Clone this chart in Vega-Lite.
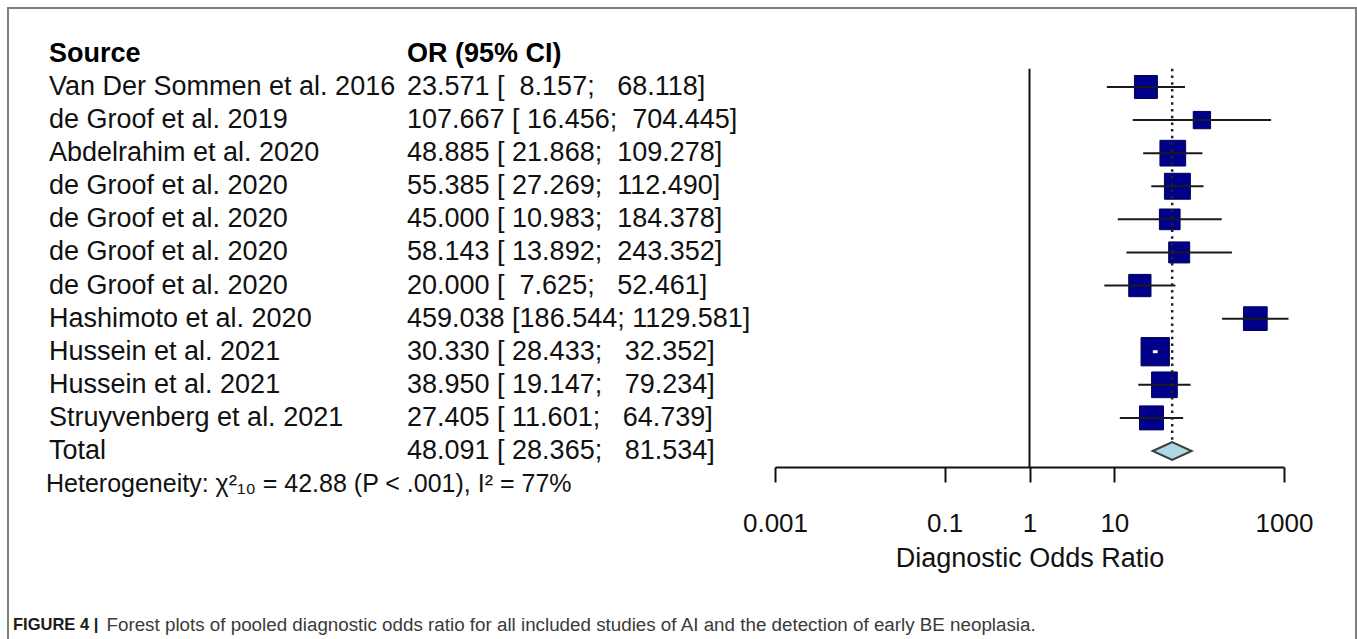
{
  "$schema": "https://vega.github.io/schema/vega-lite/v6.json",
  "width": 1357,
  "height": 639,
  "autosize": {"type": "fit", "contains": "padding"},
  "padding": {"left": 8, "top": 8, "right": 1, "bottom": -2},
  "background": "white",
  "config": {
    "font": "Liberation Sans",
    "view": {"stroke": "#808080", "strokeWidth": 2}
  },
  "title": {
    "text": "FIGURE 4 |",
    "orient": "bottom",
    "anchor": "start",
    "frame": "group",
    "offset": -24,
    "dx": 5,
    "font": "Liberation Sans",
    "fontSize": 16.5,
    "fontWeight": "bold",
    "color": "#1a1a1a"
  },
  "data": {
    "values": [
      {"row": 0, "type": "header", "source": "Source", "ortext": "OR (95% CI)"},
      {"row": 1, "type": "study", "source": "Van Der Sommen et al. 2016", "ortext": "23.571\u00a0[\u00a0\u00a08.157;\u00a0\u00a0\u00a068.118]", "or": 23.571, "lower": 8.157, "upper": 68.118, "weight": 8.6},
      {"row": 2, "type": "study", "source": "de Groof et al. 2019", "ortext": "107.667\u00a0[\u00a016.456;\u00a0\u00a0704.445]", "or": 107.667, "lower": 16.456, "upper": 704.445, "weight": 4.9},
      {"row": 3, "type": "study", "source": "Abdelrahim et al. 2020", "ortext": "48.885\u00a0[\u00a021.868;\u00a0\u00a0109.278]", "or": 48.885, "lower": 21.868, "upper": 109.278, "weight": 10.8},
      {"row": 4, "type": "study", "source": "de Groof et al. 2020", "ortext": "55.385\u00a0[\u00a027.269;\u00a0\u00a0112.490]", "or": 55.385, "lower": 27.269, "upper": 112.49, "weight": 11.0},
      {"row": 5, "type": "study", "source": "de Groof et al. 2020", "ortext": "45.000\u00a0[\u00a010.983;\u00a0\u00a0184.378]", "or": 45.0, "lower": 10.983, "upper": 184.378, "weight": 7.0},
      {"row": 6, "type": "study", "source": "de Groof et al. 2020", "ortext": "58.143\u00a0[\u00a013.892;\u00a0\u00a0243.352]", "or": 58.143, "lower": 13.892, "upper": 243.352, "weight": 7.2},
      {"row": 7, "type": "study", "source": "de Groof et al. 2020", "ortext": "20.000\u00a0[\u00a0\u00a07.625;\u00a0\u00a0\u00a052.461]", "or": 20.0, "lower": 7.625, "upper": 52.461, "weight": 8.1},
      {"row": 8, "type": "study", "source": "Hashimoto et al. 2020", "ortext": "459.038\u00a0[186.544;\u00a01129.581]", "or": 459.038, "lower": 186.544, "upper": 1129.581, "weight": 9.2},
      {"row": 9, "type": "study", "source": "Hussein et al. 2021", "ortext": "30.330\u00a0[\u00a028.433;\u00a0\u00a0\u00a032.352]", "or": 30.33, "lower": 28.433, "upper": 32.352, "weight": 13.1},
      {"row": 10, "type": "study", "source": "Hussein et al. 2021", "ortext": "38.950\u00a0[\u00a019.147;\u00a0\u00a0\u00a079.234]", "or": 38.95, "lower": 19.147, "upper": 79.234, "weight": 10.8},
      {"row": 11, "type": "study", "source": "Struyvenberg et al. 2021", "ortext": "27.405\u00a0[\u00a011.601;\u00a0\u00a0\u00a064.739]", "or": 27.405, "lower": 11.601, "upper": 64.739, "weight": 9.4},
      {"row": 12, "type": "total", "source": "Total", "ortext": "48.091\u00a0[\u00a028.365;\u00a0\u00a0\u00a081.534]", "or": 48.091, "lower": 28.365, "upper": 81.534},
      {"row": 13, "type": "het", "source": "Heterogeneity: \u03c7\u00b2\u2081\u2080 = 42.88 (P < .001), I\u00b2 = 77%", "ortext": ""}
    ]
  },
  "resolve": {"scale": {"x": "independent"}, "axis": {"x": "independent"}},
  "layer": [
    {
      "transform": [
        {"filter": "datum.type == 'study' || datum.type == 'total'"},
        {"fold": ["source", "ortext"], "as": ["col", "label"]}
      ],
      "mark": {"type": "text", "align": "left", "baseline": "middle", "fontSize": 27, "color": "#111111"},
      "encoding": {
        "x": {
          "field": "col", "type": "nominal",
          "scale": {"type": "point", "domain": ["source", "ortext"], "range": [41, 399], "padding": 0},
          "axis": {
            "orient": "bottom",
            "title": "Forest plots of pooled diagnostic odds ratio for all included studies of AI and the detection of early BE neoplasia.",
            "labels": false,
            "ticks": false,
            "domain": false,
            "grid": false,
            "titleX": 98,
            "titleY": -11,
            "titleAlign": "left",
            "titleBaseline": "alphabetic",
            "titleFont": "Liberation Sans",
            "titleFontSize": 18.8,
            "titleFontWeight": "normal",
            "titleColor": "#3a3a3a"
          }
        },
        "y": {"field": "row", "type": "quantitative", "scale": {"domain": [-1.387, 17.742], "reverse": true, "nice": false, "zero": false}, "axis": null},
        "text": {"field": "label"}
      }
    },
    {
      "transform": [
        {"filter": "datum.type == 'header'"},
        {"fold": ["source", "ortext"], "as": ["col", "label"]}
      ],
      "mark": {"type": "text", "align": "left", "baseline": "middle", "fontSize": 27, "fontWeight": "bold", "color": "#000000"},
      "encoding": {
        "x": {"field": "col", "type": "nominal", "scale": {"type": "point", "domain": ["source", "ortext"], "range": [41, 399], "padding": 0}, "axis": null},
        "y": {"field": "row", "type": "quantitative", "scale": {"domain": [-1.387, 17.742], "reverse": true, "nice": false, "zero": false}, "axis": null},
        "text": {"field": "label"}
      }
    },
    {
      "transform": [
        {"filter": "datum.type == 'het'"},
        {"fold": ["source", "ortext"], "as": ["col", "label"]},
        {"filter": "datum.label != ''"}
      ],
      "mark": {"type": "text", "align": "left", "baseline": "middle", "fontSize": 25, "color": "#111111", "dx": -3},
      "encoding": {
        "x": {"field": "col", "type": "nominal", "scale": {"type": "point", "domain": ["source", "ortext"], "range": [41, 399], "padding": 0}, "axis": null},
        "y": {"field": "row", "type": "quantitative", "scale": {"domain": [-1.387, 17.742], "reverse": true, "nice": false, "zero": false}, "axis": null},
        "text": {"field": "label"}
      }
    },
    {
      "transform": [{"filter": "datum.type == 'total'"}],
      "mark": {"type": "rule", "color": "#111111", "strokeWidth": 2},
      "encoding": {
        "x": {"datum": 1, "type": "quantitative", "scale": {"type": "log", "domain": [0.001, 1000], "range": [767, 1276], "nice": false}, "axis": null},
        "y": {"datum": 0.45, "type": "quantitative", "scale": {"domain": [-1.387, 17.742], "reverse": true, "nice": false, "zero": false}, "axis": null},
        "y2": {"datum": 12.485}
      }
    },
    {
      "transform": [{"filter": "datum.type == 'study'"}],
      "mark": {"type": "point", "shape": "square", "filled": true, "opacity": 1, "color": "#00008B", "stroke": "#000055", "strokeWidth": 1},
      "encoding": {
        "x": {
          "field": "or", "type": "quantitative",
          "scale": {"type": "log", "domain": [0.001, 1000], "range": [767, 1276], "nice": false},
          "axis": {
            "orient": "bottom",
            "values": [0.001, 0.1, 1, 10, 1000],
            "format": "~g",
            "offset": -174,
            "title": "Diagnostic Odds Ratio",
            "grid": false,
            "domainColor": "#111111",
            "domainWidth": 2,
            "tickColor": "#111111",
            "tickWidth": 2,
            "tickSize": 15,
            "labelFont": "Liberation Sans",
            "labelFontSize": 26,
            "labelColor": "#111111",
            "labelFlush": false,
            "labelPadding": 28,
            "titleFont": "Liberation Sans",
            "titleFontSize": 27,
            "titleFontWeight": "normal",
            "titleColor": "#111111",
            "titlePadding": 9
          }
        },
        "y": {"field": "row", "type": "quantitative", "scale": {"domain": [-1.387, 17.742], "reverse": true, "nice": false, "zero": false}, "axis": null},
        "size": {"field": "weight", "type": "quantitative", "scale": {"type": "linear", "domain": [0, 13.1], "range": [0, 801]}, "legend": null}
      }
    },
    {
      "transform": [{"filter": "datum.type == 'study'"}],
      "mark": {"type": "rule", "color": "#1a1a1a", "strokeWidth": 2},
      "encoding": {
        "x": {"field": "lower", "type": "quantitative", "scale": {"type": "log", "domain": [0.001, 1000], "range": [767, 1276], "nice": false}, "axis": null},
        "x2": {"field": "upper"},
        "y": {"field": "row", "type": "quantitative", "scale": {"domain": [-1.387, 17.742], "reverse": true, "nice": false, "zero": false}, "axis": null}
      }
    },
    {
      "transform": [{"filter": "datum.type == 'study' && datum.upper / datum.lower < 1.3"}],
      "mark": {"type": "rule", "color": "#ffffff", "strokeWidth": 3},
      "encoding": {
        "x": {"field": "lower", "type": "quantitative", "scale": {"type": "log", "domain": [0.001, 1000], "range": [767, 1276], "nice": false}, "axis": null},
        "x2": {"field": "upper"},
        "y": {"field": "row", "type": "quantitative", "scale": {"domain": [-1.387, 17.742], "reverse": true, "nice": false, "zero": false}, "axis": null}
      }
    },
    {
      "transform": [{"filter": "datum.type == 'total'"}],
      "mark": {"type": "rule", "color": "#222222", "strokeWidth": 2.5, "strokeDash": [2.5, 4.2]},
      "encoding": {
        "x": {"field": "or", "type": "quantitative", "scale": {"type": "log", "domain": [0.001, 1000], "range": [767, 1276], "nice": false}, "axis": null},
        "y": {"datum": 0.45, "type": "quantitative", "scale": {"domain": [-1.387, 17.742], "reverse": true, "nice": false, "zero": false}, "axis": null},
        "y2": {"datum": 11.72}
      }
    },
    {
      "transform": [{"filter": "datum.type == 'total'"}],
      "mark": {"type": "point", "shape": "M-1,0L0,-0.46L1,0L0,0.46Z", "size": 1521, "filled": true, "opacity": 1, "color": "#ADD8E6", "stroke": "#3c3c3c", "strokeWidth": 2},
      "encoding": {
        "x": {"field": "or", "type": "quantitative", "scale": {"type": "log", "domain": [0.001, 1000], "range": [767, 1276], "nice": false}, "axis": null},
        "y": {"field": "row", "type": "quantitative", "scale": {"domain": [-1.387, 17.742], "reverse": true, "nice": false, "zero": false}, "axis": null}
      }
    }
  ]
}
